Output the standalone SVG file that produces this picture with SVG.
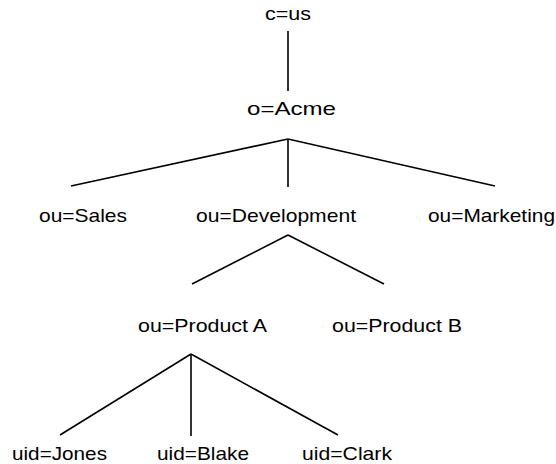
<svg xmlns="http://www.w3.org/2000/svg" width="556" height="464" viewBox="0 0 556 464">
<style>
text{font-family:"Liberation Sans",Arial,Helvetica,sans-serif;font-size:19px;fill:#000}
line{stroke:#000;stroke-width:1.6}
</style>
<rect width="556" height="464" fill="#fff"/>
<g id="connectors">
<line x1="288" y1="31" x2="288" y2="91"/>
<line x1="288" y1="139" x2="71" y2="186"/>
<line x1="288" y1="139" x2="288" y2="187"/>
<line x1="288" y1="139" x2="495" y2="186"/>
<line x1="288" y1="235" x2="192" y2="284"/>
<line x1="288" y1="235" x2="384" y2="284"/>
<line x1="191" y1="354" x2="60" y2="435"/>
<line x1="191" y1="354" x2="191" y2="436"/>
<line x1="191" y1="354" x2="338" y2="435"/>
</g>
<g id="n-c-us"><text x="265" y="20" textLength="46" lengthAdjust="spacingAndGlyphs">c=us</text></g>
<g id="n-o-acme"><text x="247" y="115" textLength="89" lengthAdjust="spacingAndGlyphs">o=Acme</text></g>
<g id="n-sales"><text x="39" y="222" textLength="88" lengthAdjust="spacingAndGlyphs">ou=Sales</text></g>
<g id="n-development"><text x="196" y="222" textLength="160" lengthAdjust="spacingAndGlyphs">ou=Development</text></g>
<g id="n-marketing"><text x="428" y="222" textLength="127" lengthAdjust="spacingAndGlyphs">ou=Marketing</text></g>
<g id="n-product-a"><text x="138" y="332" textLength="129" lengthAdjust="spacingAndGlyphs">ou=Product A</text></g>
<g id="n-product-b"><text x="332" y="332" textLength="130" lengthAdjust="spacingAndGlyphs">ou=Product B</text></g>
<g id="n-jones"><text x="12" y="460" textLength="95" lengthAdjust="spacingAndGlyphs">uid=Jones</text></g>
<g id="n-blake"><text x="157" y="460" textLength="92" lengthAdjust="spacingAndGlyphs">uid=Blake</text></g>
<g id="n-clark"><text x="302" y="460" textLength="90" lengthAdjust="spacingAndGlyphs">uid=Clark</text></g>
</svg>
